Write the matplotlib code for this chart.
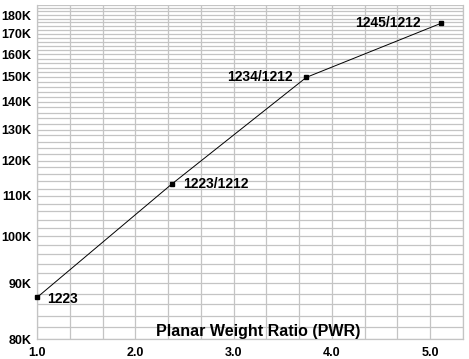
import numpy as np
import matplotlib
matplotlib.use('Agg')
from matplotlib import pyplot as plt
from matplotlib.ticker import MultipleLocator, FuncFormatter

# data (y in thousands)
pwr = [1.0, 2.37, 3.74, 5.11]
weight_k = [87.3, 113.2, 149.8, 175.5]
point_labels = ['1223', '1223/1212', '1234/1212', '1245/1212']
# label offsets in pixels and alignment
label_offsets = [(10, -2, 'left'), (11, 0, 'left'), (-14, 0, 'right'), (-20, 0, 'right')]

plt.rcParams['font.family'] = ['Liberation Sans', 'DejaVu Sans']
plt.rcParams['font.weight'] = 'bold'

fig = plt.figure(figsize=(4.69, 3.59), dpi=100)
ax = fig.add_axes([37 / 469, 1 - 339 / 359, 426 / 469, 334.5 / 359])

# axis spacing follows 1/sqrt(y)
ax.set_yscale('function', functions=(lambda v: -1.0 / np.sqrt(np.clip(v, 1e-9, None)),
                                     lambda u: 1.0 / np.square(u)))
ax.set_ylim(80, 186)
ax.set_xlim(1.0, 16 / 3)

ax.xaxis.set_major_locator(MultipleLocator(1.0))
ax.xaxis.set_minor_locator(MultipleLocator(1 / 3))
ax.yaxis.set_major_locator(MultipleLocator(10))
ax.yaxis.set_minor_locator(MultipleLocator(2))
ax.xaxis.set_major_formatter(FuncFormatter(lambda v, p: '%.1f' % v))
ax.yaxis.set_major_formatter(FuncFormatter(lambda v, p: '%dK' % round(v)))

ax.grid(True, which='both', color='#c4c4c4', linewidth=0.9)
ax.set_axisbelow(True)
ax.tick_params(which='both', length=0)
ax.tick_params(axis='x', pad=6, labelsize=9)
ax.tick_params(axis='y', pad=4, labelsize=9)
for s in ax.spines.values():
    s.set_color('#c4c4c4')
    s.set_linewidth(0.9)
ax.spines['top'].set_visible(False)

ax.plot(pwr, weight_k, color='black', linewidth=0.7, marker='s', markersize=3.3,
        clip_on=False, zorder=3)

for x, y, lab, (dx, dy, ha) in zip(pwr, weight_k, point_labels, label_offsets):
    ax.annotate(lab, (x, y), xytext=(dx, dy), textcoords='offset pixels',
                ha=ha, va='center', fontsize=10, fontweight='bold')

ax.text(0.519, 0.009, 'Planar Weight Ratio (PWR)', transform=ax.transAxes,
        ha='center', va='baseline', fontsize=11.5, fontweight='bold')

plt.savefig('out.png', dpi=100)
